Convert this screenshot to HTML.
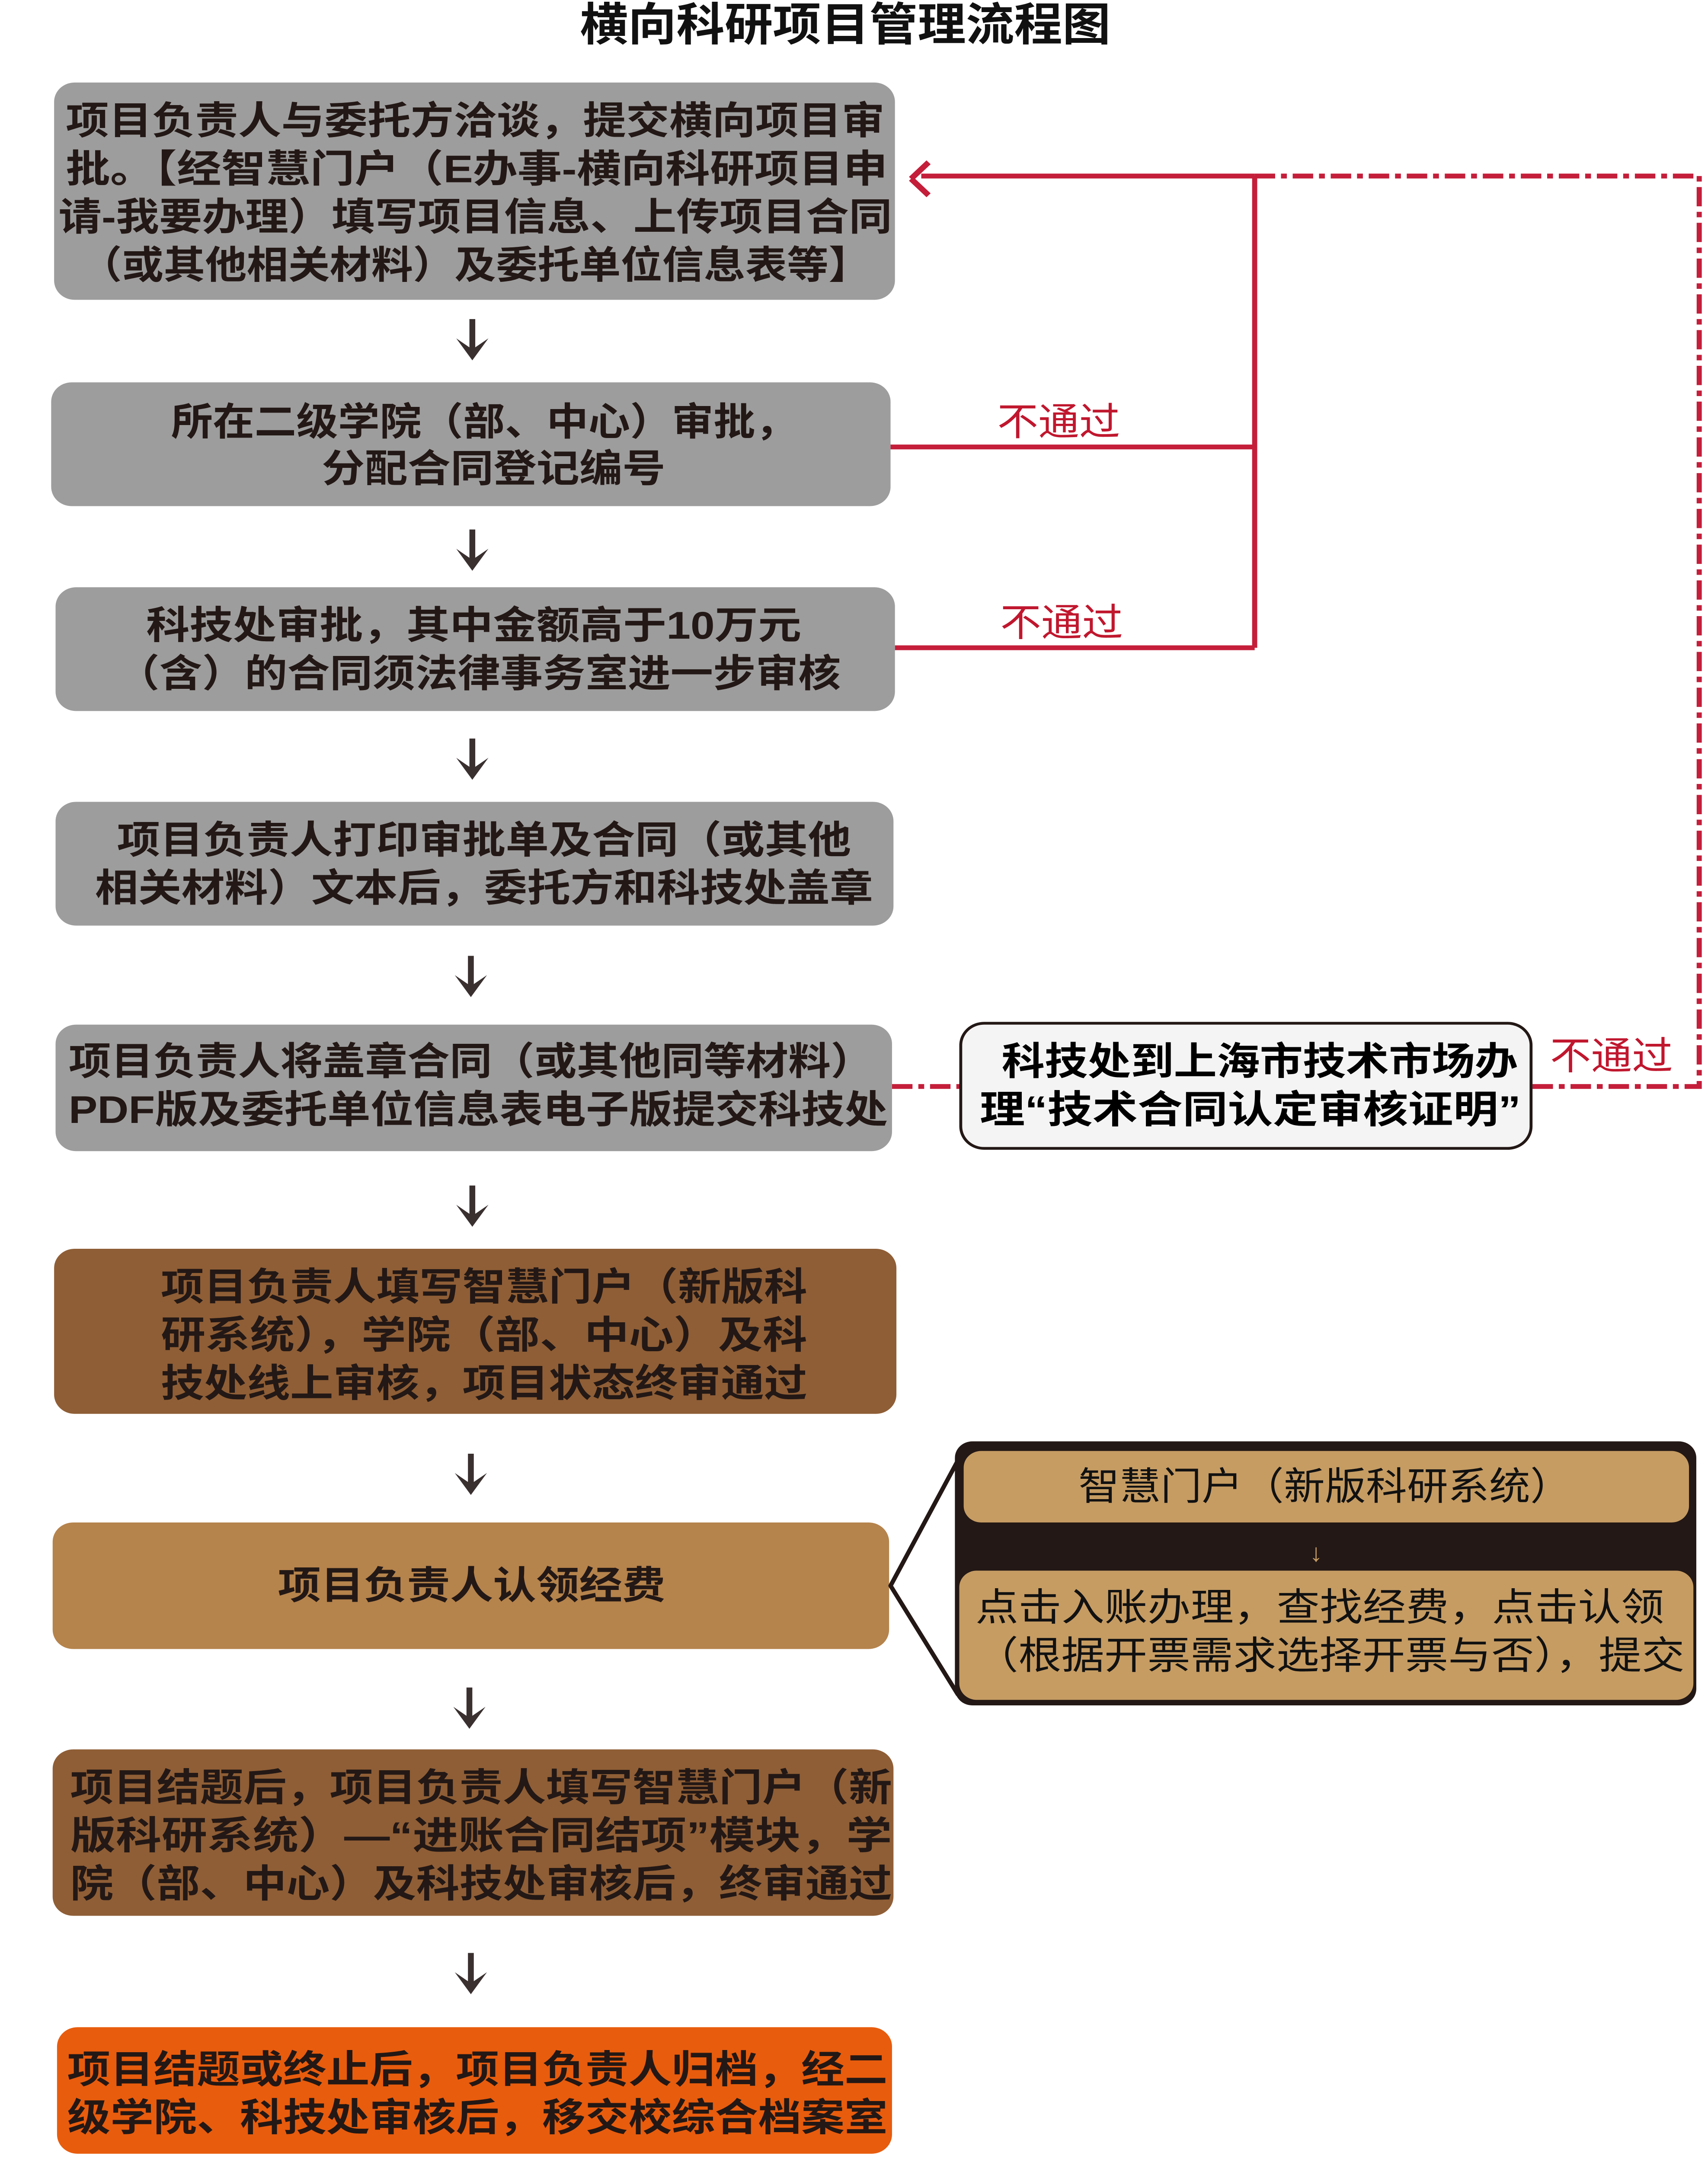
<!DOCTYPE html>
<html><head><meta charset="utf-8"><meta name="viewport" content="width=3950">
<style>
html,body{margin:0;padding:0;background:#fff;width:100%;height:100%;overflow:hidden;}
svg{display:block;position:fixed;left:0;top:0;width:100vw;height:100vh;}
text{font-family:"Liberation Sans","Noto Sans CJK SC",sans-serif;dominant-baseline:central;}
.b{font-weight:bold;font-size:28px;fill:#231815;}
.n{font-size:28px;fill:#111;}
.r{font-size:28px;fill:#c0172e;}
</style></head><body>
<svg viewBox="0 0 1168 1572" preserveAspectRatio="none" xmlns="http://www.w3.org/2000/svg">
<defs>
<g id="arr"><rect x="-2" y="0" width="4" height="24" fill="#3a3030"/><path d="M-11,14 L0,30 L11,14 L0,22 Z" fill="#3a3030"/></g>
</defs>
<text x="578" y="18" text-anchor="middle" style="font-weight:bold;font-size:33px;fill:#111">横向科研项目管理流程图</text>

<g stroke="#c41e3a" stroke-width="3.5" fill="none">
<path d="M609,325 H858 M612,471 H858 M858,471 V128 M858,128 H630"/>
<path d="M623,130 L635,118 M623,130 L635,142" stroke-width="4"/>
</g>
<g stroke="#c41e3a" stroke-width="3.5" fill="none" stroke-dasharray="14,4,4,4">
<path d="M858,128 H1162 V790 H1047 M610,790 H657"/>
</g>
<text x="724" y="307" text-anchor="middle" class="r">不通过</text>
<text x="726" y="453" text-anchor="middle" class="r">不通过</text>
<text x="1102" y="768" text-anchor="middle" class="r">不通过</text>

<rect x="37" y="60" width="575" height="158" rx="14" fill="#9d9d9d"/>
<text x="45" y="88" class="b" textLength="560" lengthAdjust="spacingAndGlyphs">项目负责人与委托方洽谈，提交横向项目审</text>
<text x="45" y="123" class="b" textLength="562" lengthAdjust="spacingAndGlyphs">批。【经智慧门户（E办事-横向科研项目申</text>
<text x="40" y="158" class="b" textLength="570" lengthAdjust="spacingAndGlyphs">请-我要办理）填写项目信息、上传项目合同</text>
<text x="55" y="193" class="b" textLength="540" lengthAdjust="spacingAndGlyphs">（或其他相关材料）及委托单位信息表等】</text>

<rect x="35" y="278" width="574" height="90" rx="14" fill="#9d9d9d"/>
<text x="117" y="307" class="b" textLength="428" lengthAdjust="spacingAndGlyphs">所在二级学院（部、中心）审批，</text>
<text x="220" y="341" class="b" textLength="235" lengthAdjust="spacingAndGlyphs">分配合同登记编号</text>

<rect x="38" y="427" width="574" height="90" rx="14" fill="#9d9d9d"/>
<text x="100" y="455" class="b" textLength="448" lengthAdjust="spacingAndGlyphs">科技处审批，其中金额高于10万元</text>
<text x="80" y="490" class="b" textLength="495" lengthAdjust="spacingAndGlyphs">（含）的合同须法律事务室进一步审核</text>

<rect x="38" y="583" width="573" height="90" rx="14" fill="#9d9d9d"/>
<text x="80" y="611" class="b" textLength="502" lengthAdjust="spacingAndGlyphs">项目负责人打印审批单及合同（或其他</text>
<text x="65" y="646" class="b" textLength="532" lengthAdjust="spacingAndGlyphs">相关材料）文本后，委托方和科技处盖章</text>

<rect x="38" y="745" width="572" height="92" rx="14" fill="#9d9d9d"/>
<text x="47" y="772" class="b" textLength="550" lengthAdjust="spacingAndGlyphs">项目负责人将盖章合同（或其他同等材料）</text>
<text x="47" y="807" class="b" textLength="560" lengthAdjust="spacingAndGlyphs">PDF版及委托单位信息表电子版提交科技处</text>

<rect x="657" y="744" width="390" height="91" rx="16" fill="#f4f4f4" stroke="#231815" stroke-width="2"/>
<text x="685" y="772" class="b" style="fill:#000" textLength="353" lengthAdjust="spacingAndGlyphs">科技处到上海市技术市场办</text>
<text x="670" y="807" class="b" style="fill:#000" textLength="370" lengthAdjust="spacingAndGlyphs">理“技术合同认定审核证明”</text>

<rect x="37" y="908" width="576" height="120" rx="14" fill="#8f5e36"/>
<text x="110" y="936" class="b" textLength="442" lengthAdjust="spacingAndGlyphs">项目负责人填写智慧门户（新版科</text>
<text x="110" y="971" class="b" textLength="442" lengthAdjust="spacingAndGlyphs">研系统），学院（部、中心）及科</text>
<text x="110" y="1006" class="b" textLength="442" lengthAdjust="spacingAndGlyphs">技处线上审核，项目状态终审通过</text>

<rect x="36" y="1107" width="572" height="92" rx="14" fill="#b5834c"/>
<text x="190" y="1153" class="b" textLength="265" lengthAdjust="spacingAndGlyphs">项目负责人认领经费</text>

<path d="M609,1153 L655,1062 L655,1232 Z" fill="#fff" stroke="#231815" stroke-width="3" stroke-linejoin="round"/>
<rect x="653" y="1048" width="507" height="192" rx="12" fill="#231815"/>
<rect x="659" y="1055" width="496" height="52" rx="12" fill="#c69c63"/>
<text x="906" y="1081" text-anchor="middle" class="n" textLength="337" lengthAdjust="spacingAndGlyphs">智慧门户（新版科研系统）</text>
<text x="900" y="1129" text-anchor="middle" style="font-size:18px;fill:#c69c63">↓</text>
<rect x="656" y="1142" width="502" height="94" rx="12" fill="#c69c63"/>
<text x="667" y="1169" class="n" textLength="471" lengthAdjust="spacingAndGlyphs">点击入账办理，查找经费，点击认领</text>
<text x="667" y="1204" class="n" textLength="485" lengthAdjust="spacingAndGlyphs">（根据开票需求选择开票与否），提交</text>

<rect x="36" y="1272" width="575" height="121" rx="14" fill="#8f5e36"/>
<text x="48" y="1300" class="b" textLength="562" lengthAdjust="spacingAndGlyphs">项目结题后，项目负责人填写智慧门户（新</text>
<text x="48" y="1335" class="b" textLength="562" lengthAdjust="spacingAndGlyphs">版科研系统）—“进账合同结项”模块，学</text>
<text x="48" y="1370" class="b" textLength="562" lengthAdjust="spacingAndGlyphs">院（部、中心）及科技处审核后，终审通过</text>

<rect x="39" y="1474" width="571" height="92" rx="14" fill="#e85c0d"/>
<text x="46" y="1505" class="b" textLength="561" lengthAdjust="spacingAndGlyphs">项目结题或终止后，项目负责人归档，经二</text>
<text x="46" y="1540" class="b" textLength="561" lengthAdjust="spacingAndGlyphs">级学院、科技处审核后，移交校综合档案室</text>

<use href="#arr" x="323" y="232"/>
<use href="#arr" x="323" y="385"/>
<use href="#arr" x="323" y="537"/>
<use href="#arr" x="322" y="695"/>
<use href="#arr" x="323" y="862"/>
<use href="#arr" x="322" y="1057"/>
<use href="#arr" x="321" y="1227"/>
<use href="#arr" x="322" y="1420"/>
</svg>
</body></html>
